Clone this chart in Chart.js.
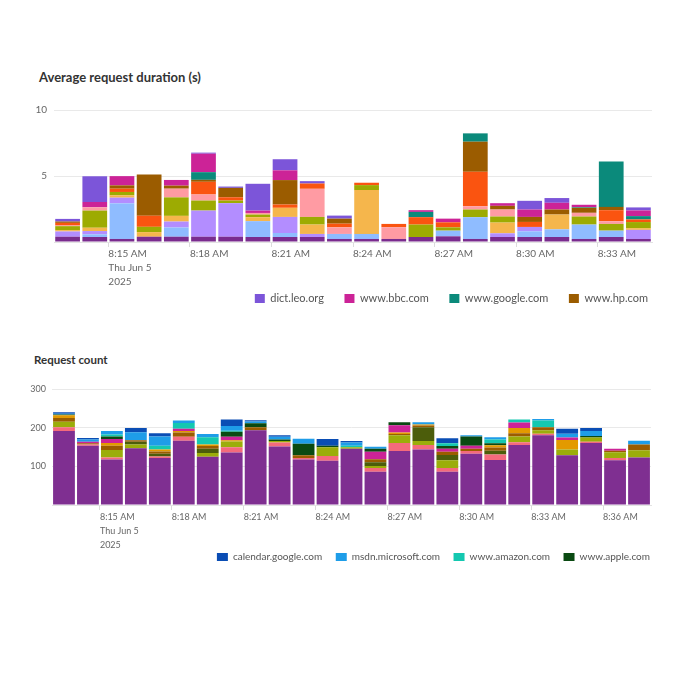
<!DOCTYPE html>
<html>
<head>
<meta charset="utf-8">
<script src="https://cdn.jsdelivr.net/npm/chart.js@4.4.1/dist/chart.umd.min.js"></script>
<style>
  body { margin: 0; background: #fff; font-family: Lato, "Open Sans", sans-serif; }
  .title { position: absolute; color: #333; font-weight: bold; white-space: nowrap; }
  #durationTitle { left: 39px; top: 69px; font-size: 13px; line-height: 16px; }
  #countTitle { left: 34px; top: 353px; font-size: 11.5px; line-height: 14px; }
  .box { position: absolute; left: 0; width: 680px; }
  #top { top: 97px; height: 217px; }
  #bottom { top: 378px; height: 194px; }
</style>
</head>
<body>
<div class="title" id="durationTitle">Average request duration (s)</div>
<div class="box" id="top"><canvas id="durationChart"></canvas></div>
<div class="title" id="countTitle">Request count</div>
<div class="box" id="bottom"><canvas id="countChart"></canvas></div>
<script>
// one bucket per minute
const durationBuckets = ['8:13 AM', '8:14 AM', '8:15 AM', '8:16 AM', '8:17 AM', '8:18 AM', '8:19 AM', '8:20 AM',
  '8:21 AM', '8:22 AM', '8:23 AM', '8:24 AM', '8:25 AM', '8:26 AM', '8:27 AM', '8:28 AM', '8:29 AM', '8:30 AM',
  '8:31 AM', '8:32 AM', '8:33 AM', '8:34 AM'];
const durationTickLabels = ['8:15 AM', '8:18 AM', '8:21 AM', '8:24 AM', '8:27 AM', '8:30 AM', '8:33 AM'];

const countBuckets = ['8:13 AM', '8:14 AM', '8:15 AM', '8:16 AM', '8:17 AM', '8:18 AM', '8:19 AM', '8:20 AM',
  '8:21 AM', '8:22 AM', '8:23 AM', '8:24 AM', '8:25 AM', '8:26 AM', '8:27 AM', '8:28 AM', '8:29 AM', '8:30 AM',
  '8:31 AM', '8:32 AM', '8:33 AM', '8:34 AM', '8:35 AM', '8:36 AM', '8:37 AM'];
const countTickLabels = ['8:15 AM', '8:18 AM', '8:21 AM', '8:24 AM', '8:27 AM', '8:30 AM', '8:33 AM', '8:36 AM'];

const dateLines = ['Thu Jun 5', '2025'];

// Average request duration (s), stack order bottom -> top
const wikipediaDuration = [.4, .38, .23, .4, .4, .4, .4, .38, .38, .38, .23, .23, .23, .38, .43, .23, .38, .38, .38, .23, .38, .23];
const w3Duration = [0, .2, 2.7, 0, .7, 0, 0, 1.2, .3, 0, .38, .38, 0, 0, .43, 1.65, 0, .43, .58, 1.09, .48, 0];
const redditDuration = [.4, .25, .43, 0, .45, 1.98, 2.54, 0, 1.22, .23, 0, 0, 0, 0, 0, 0, .28, .33, 0, 0, 0, .69];
const pythonDuration = [.1, .25, .18, .35, .43, 0, 0, .3, .69, .71, 0, 3.32, 0, 0, 0, 0, .81, 0, 1.12, 0, 0, .13];
const nytimesDuration = [.3, 1.3, .25, .4, 1.4, .76, .2, .2, 0, .58, 0, .38, 0, .94, .25, .58, .46, 0, 0, .61, .51, .46];
const mozillaDuration = [.05, .25, 0, 0, .66, .46, 0, .12, 0, 2.13, .5, 0, .89, 0, 0, .25, .53, 0, 0, .28, .2, 0];
const ibmDuration = [.2, 0, .25, .84, 0, .96, .25, 0, .25, .4, .28, .18, .25, .56, .38, 2.61, 0, .38, 0, 0, .84, .2];
const hpDuration = [.1, 0, .25, 3.12, .23, .15, .71, 0, 1.85, 0, .38, 0, 0, 0, 0, 2.28, .28, .38, .38, .38, .25, 0];
const googleDuration = [0, 0, 0, 0, 0, .58, 0, 0, 0, 0, 0, 0, 0, .4, 0, .63, 0, 0, 0, .05, 3.43, .25];
const bbcDuration = [0, .4, .7, 0, .43, 1.4, 0, .18, .74, 0, 0, 0, 0, .13, .28, 0, .2, .56, .51, .18, 0, .43];
const leoDuration = [.2, 1.95, 0, 0, 0, .08, .1, 2.03, .84, .18, .23, 0, 0, 0, 0, 0, 0, .66, .36, 0, 0, .23];

// Request count, stack order bottom -> top
const wikipediaCount = [192, 154, 118, 147, 122, 167, 125, 136, 194, 152, 118, 115, 146, 86, 140, 144, 86, 133, 117, 156, 181, 129, 161, 116, 123];
const redditCount = [10, 3, 5, 0, 4, 10, 0, 14, 0, 10, 4, 12, 0, 10, 21, 12, 10, 7, 14, 7, 4, 0, 3, 6, 0];
const googleCount = [14, 0, 20, 10, 0, 0, 10, 15, 0, 4, 0, 23, 4, 5, 20, 10, 20, 0, 0, 15, 9, 15, 11, 15, 19];
const githubCount = [0, 0, 0, 7, 7, 0, 11, 0, 0, 0, 0, 0, 0, 10, 0, 36, 14, 0, 10, 0, 0, 0, 0, 0, 0];
const ebayCount = [10, 3, 11, 4, 6, 11, 7, 0, 8, 0, 7, 0, 0, 8, 3, 4, 8, 6, 8, 8, 8, 0, 0, 4, 15];
const cnnCount = [7, 0, 7, 0, 5, 4, 4, 3, 0, 0, 0, 0, 0, 0, 4, 3, 0, 0, 6, 14, 0, 25, 0, 0, 0];
const bingCount = [0, 4, 10, 0, 0, 6, 0, 9, 0, 0, 0, 0, 0, 19, 19, 0, 8, 8, 0, 14, 0, 6, 0, 5, 0];
const appleCount = [2, 0, 7, 0, 0, 0, 0, 13, 10, 4, 30, 4, 0, 8, 8, 0, 7, 24, 5, 0, 0, 0, 4, 0, 0];
const amazonCount = [0, 0, 5, 0, 10, 15, 19, 3, 0, 0, 0, 0, 4, 0, 0, 0, 7, 0, 10, 8, 17, 0, 0, 0, 0];
const msdnCount = [2, 6, 9, 21, 24, 6, 8, 12, 5, 7, 13, 0, 8, 5, 0, 6, 0, 3, 6, 0, 4, 10, 13, 0, 10];
const calendarCount = [4, 4, 0, 11, 8, 0, 0, 17, 3, 4, 0, 17, 4, 0, 0, 0, 13, 0, 0, 0, 0, 13, 8, 0, 0];

// only the first legend page is visible
const durationLegend = ['dict.leo.org', 'www.bbc.com', 'www.google.com', 'www.hp.com'];
const countLegend = ['calendar.google.com', 'msdn.microsoft.com', 'www.amazon.com', 'www.apple.com'];

Chart.defaults.font.family = 'Lato, "Open Sans", sans-serif';
Chart.defaults.color = '#666';
Chart.defaults.animation = false;

function bar(label, data, color) {
    return {
        label: label,
        data: data,
        backgroundColor: color,
        borderWidth: 0,
        stack: 'all',
        barPercentage: 0.91,
        categoryPercentage: 1,
    };
}

function legendLabels(names, spacer) {
    return (chart) => {
        const items = Chart.defaults.plugins.legend.labels.generateLabels(chart);
        return names.map((n, i) => {
            const item = items.find(it => it.text === n);
            return Object.assign({}, item, { text: i < names.length - 1 ? n + spacer : n });
        });
    };
}

function chartOptions(o) {
    return {
        responsive: true,
        maintainAspectRatio: false,
        layout: { padding: { left: 30, right: o.padRight, top: 10, bottom: 0 } },
        scales: {
            x: {
                type: 'linear',
                min: 0,
                max: o.buckets.length,
                offset: false,
                afterBuildTicks: (scale) => {
                    scale.ticks = o.tickLabels.map(t => ({ value: o.buckets.indexOf(t) }));
                },
                afterFit: (s) => { if (o.xHeight) s.height = o.xHeight; },
                ticks: {
                    align: 'start',
                    autoSkip: false,
                    maxRotation: 0,
                    padding: 0,
                    color: '#666',
                    font: { size: o.tickSize, lineHeight: '14px' },
                    callback: (value, i) => i === 0 ? [o.tickLabels[i]].concat(dateLines) : o.tickLabels[i],
                },
                grid: { offset: false, drawOnChartArea: false, drawTicks: true, tickLength: 5, color: '#dcdcdc' },
                border: { color: '#e3e3e3' },
            },
            y: {
                stacked: true,
                min: 0,
                max: o.yMax,
                ticks: {
                    stepSize: o.yStep, padding: o.yPad, color: '#666', font: { size: o.tickSize },
                    callback: v => v === 0 ? '' : v,
                },
                grid: { color: '#e9e9e9', drawTicks: false },
                border: { display: false },
                afterFit: (s) => { s.width = o.yWidth; },
            },
        },
        plugins: {
            title: { display: false },
            legend: {
                position: 'bottom',
                align: 'end',
                labels: {
                    boxWidth: o.boxW, boxHeight: o.boxH, padding: o.legendPad, color: '#555',
                    font: { size: o.legendSize },
                    generateLabels: legendLabels(o.legendNames, o.spacer),
                },
            },
            tooltip: { enabled: false },
        },
    };
}

new Chart(document.getElementById('durationChart'), {
    type: 'bar',
    data: {
        labels: durationBuckets.map((b, i) => i + 0.5),
        datasets: [
            bar('www.wikipedia.org', wikipediaDuration, '#7a2c8e'),
            bar('www.w3.org', w3Duration, '#8fbcff'),
            bar('www.reddit.com', redditDuration, '#b38dff'),
            bar('www.python.org', pythonDuration, '#f5b64c'),
            bar('www.nytimes.com', nytimesDuration, '#9dab02'),
            bar('www.mozilla.org', mozillaDuration, '#ff9ba3'),
            bar('www.ibm.com', ibmDuration, '#fa5410'),
            bar('www.hp.com', hpDuration, '#9b5c00'),
            bar('www.google.com', googleDuration, '#0b8a7b'),
            bar('www.bbc.com', bbcDuration, '#cc2397'),
            bar('dict.leo.org', leoDuration, '#7c55d9'),
        ]
    },
    options: chartOptions({
        buckets: durationBuckets, tickLabels: durationTickLabels, tickSize: 10, xHeight: 0,
        yMax: 10, yStep: 5, yWidth: 24, yPad: 7, padRight: 28,
        legendNames: durationLegend, legendSize: 11, legendPad: 4, boxW: 10, boxH: 9,
        spacer: '\u2003\u2005\u2002',
    }),
});

new Chart(document.getElementById('countChart'), {
    type: 'bar',
    data: {
        labels: countBuckets.map((b, i) => i + 0.5),
        datasets: [
            bar('www.wikipedia.org', wikipediaCount, '#7f2f91'),
            bar('www.reddit.com', redditCount, '#f46a7c'),
            bar('www.google.com', googleCount, '#9bad0a'),
            bar('www.github.com', githubCount, '#4c5d0b'),
            bar('www.ebay.com', ebayCount, '#9b5c00'),
            bar('www.cnn.com', cnnCount, '#e39a00'),
            bar('www.bing.com', bingCount, '#cc2397'),
            bar('www.apple.com', appleCount, '#0a4a12'),
            bar('www.amazon.com', amazonCount, '#14c8b0'),
            bar('msdn.microsoft.com', msdnCount, '#1e9de8'),
            bar('calendar.google.com', calendarCount, '#0a4db4'),
        ]
    },
    options: chartOptions({
        buckets: countBuckets, tickLabels: countTickLabels, tickSize: 9, xHeight: 46,
        yMax: 300, yStep: 100, yWidth: 22, yPad: 6, padRight: 29,
        legendNames: countLegend, legendSize: 10, legendPad: 1, boxW: 11, boxH: 8,
        spacer: '\u2003\u2002',
    }),
});
</script>
</body>
</html>
